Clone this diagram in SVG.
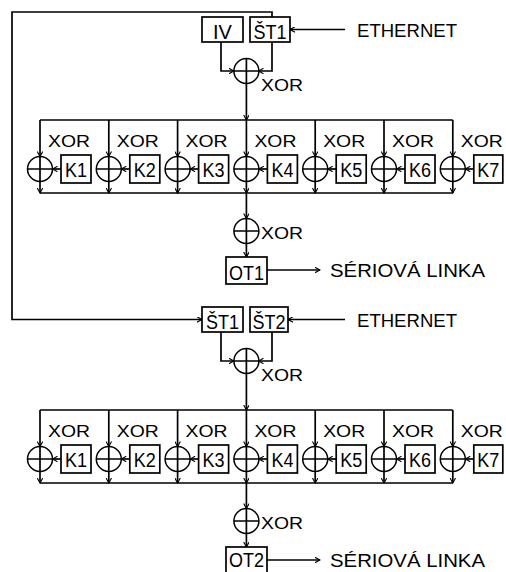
<svg xmlns="http://www.w3.org/2000/svg" xmlns:xlink="http://www.w3.org/1999/xlink" width="506" height="572" viewBox="0 0 506 572">
<style>
.ln{fill:none;stroke:#000;stroke-width:1.7}
.ar{marker-end:url(#a)}
.bx{fill:#fff;stroke:#000;stroke-width:1.7}
.t{font-family:"Liberation Sans",Arial,sans-serif;fill:#000}
.bl{font-size:20px;text-anchor:middle}
.xl{font-size:17px}
.big{font-size:19px}
</style>
<defs>
<marker id="a" viewBox="0 0 12 12" refX="11" refY="6" markerWidth="6" markerHeight="6" markerUnits="userSpaceOnUse" orient="auto">
<path d="M1,0.5 L11,6 L1,11.5" fill="none" stroke="#000" stroke-width="2.2"/>
</marker>
<g id="xor">
<circle cx="0" cy="0" r="12.5" fill="#fff" stroke="#000" stroke-width="1.5"/>
<path d="M0,-12.5 V12.5 M-12.5,0 H12.5" stroke="#000" stroke-width="1.7"/>
</g>
</defs>
<rect width="506" height="572" fill="#fff"/>

<g id="connectors">
<path class="ln ar" d="M272,17 V12 H12 V319.5 H202" stroke-width="2"/>
<path class="ln ar" d="M345,29.5 H290"/>
<path class="ln ar" d="M221,42 V71 H234"/>
<path class="ln ar" d="M272,42 V71 H258.5"/>
<path class="ln ar" d="M246.4,83.5 V120"/>
<path class="ln" d="M40,120 H452.8 M40,193 H452.8"/>
<path class="ln ar" d="M40,120 V156.5"/><path class="ln ar" d="M40,181.5 V193"/><path class="ln ar" d="M61,169 H52.5"/>
<path class="ln ar" d="M108.8,120 V156.5"/><path class="ln ar" d="M108.8,181.5 V193"/><path class="ln ar" d="M129.8,169 H121.3"/>
<path class="ln ar" d="M177.6,120 V156.5"/><path class="ln ar" d="M177.6,181.5 V193"/><path class="ln ar" d="M198.6,169 H190.1"/>
<path class="ln ar" d="M246.4,120 V156.5"/><path class="ln ar" d="M246.4,181.5 V193"/><path class="ln ar" d="M267.4,169 H258.9"/>
<path class="ln ar" d="M315.2,120 V156.5"/><path class="ln ar" d="M315.2,181.5 V193"/><path class="ln ar" d="M336.2,169 H327.7"/>
<path class="ln ar" d="M384,120 V156.5"/><path class="ln ar" d="M384,181.5 V193"/><path class="ln ar" d="M405,169 H396.5"/>
<path class="ln ar" d="M452.8,120 V156.5"/><path class="ln ar" d="M452.8,181.5 V193"/><path class="ln ar" d="M473.8,169 H465.3"/>
<path class="ln ar" d="M246.4,193 V218.5"/>
<path class="ln ar" d="M246.4,243.5 V257"/>
<path class="ln ar" d="M267,270 H320"/>
<path class="ln ar" d="M345,319.5 H288"/>
<path class="ln ar" d="M221,332 V361 H234"/>
<path class="ln ar" d="M272,332 V361 H258.5"/>
<path class="ln ar" d="M246.4,373.5 V410"/>
<path class="ln" d="M40,410 H452.8 M40,483 H452.8"/>
<path class="ln ar" d="M40,410 V446.5"/><path class="ln ar" d="M40,471.5 V483"/><path class="ln ar" d="M61,459 H52.5"/>
<path class="ln ar" d="M108.8,410 V446.5"/><path class="ln ar" d="M108.8,471.5 V483"/><path class="ln ar" d="M129.8,459 H121.3"/>
<path class="ln ar" d="M177.6,410 V446.5"/><path class="ln ar" d="M177.6,471.5 V483"/><path class="ln ar" d="M198.6,459 H190.1"/>
<path class="ln ar" d="M246.4,410 V446.5"/><path class="ln ar" d="M246.4,471.5 V483"/><path class="ln ar" d="M267.4,459 H258.9"/>
<path class="ln ar" d="M315.2,410 V446.5"/><path class="ln ar" d="M315.2,471.5 V483"/><path class="ln ar" d="M336.2,459 H327.7"/>
<path class="ln ar" d="M384,410 V446.5"/><path class="ln ar" d="M384,471.5 V483"/><path class="ln ar" d="M405,459 H396.5"/>
<path class="ln ar" d="M452.8,410 V446.5"/><path class="ln ar" d="M452.8,471.5 V483"/><path class="ln ar" d="M473.8,459 H465.3"/>
<path class="ln ar" d="M246.4,483 V508.5"/>
<path class="ln ar" d="M246.4,533.5 V547"/>
<path class="ln ar" d="M267,560 H320"/>
</g>

<g id="IV"><rect class="bx" x="202" y="17" width="41" height="25"/><text class="t bl" x="222.5" y="39">IV</text></g>
<g id="ST1a"><rect class="bx" x="250" y="17" width="40" height="25"/><text class="t bl" x="270" y="39" textLength="33" lengthAdjust="spacingAndGlyphs">ŠT1</text></g>
<g id="ethA"><text class="t big" x="357" y="36.5" textLength="100" lengthAdjust="spacingAndGlyphs">ETHERNET</text></g>
<g id="xorA"><use xlink:href="#xor" x="246.4" y="71"/><text class="t xl" x="261" y="90.5" textLength="42" lengthAdjust="spacingAndGlyphs">XOR</text></g>

<g id="A1"><use xlink:href="#xor" x="40" y="169"/><text class="t xl" x="48" y="147" textLength="42" lengthAdjust="spacingAndGlyphs">XOR</text><rect class="bx" x="61" y="155" width="30" height="28"/><text class="t bl" x="76" y="176.5" textLength="22" lengthAdjust="spacingAndGlyphs">K1</text></g>
<g id="A2"><use xlink:href="#xor" x="108.8" y="169"/><text class="t xl" x="116.8" y="147" textLength="42" lengthAdjust="spacingAndGlyphs">XOR</text><rect class="bx" x="129.8" y="155" width="30" height="28"/><text class="t bl" x="144.8" y="176.5" textLength="22" lengthAdjust="spacingAndGlyphs">K2</text></g>
<g id="A3"><use xlink:href="#xor" x="177.6" y="169"/><text class="t xl" x="185.6" y="147" textLength="42" lengthAdjust="spacingAndGlyphs">XOR</text><rect class="bx" x="198.6" y="155" width="30" height="28"/><text class="t bl" x="213.6" y="176.5" textLength="22" lengthAdjust="spacingAndGlyphs">K3</text></g>
<g id="A4"><use xlink:href="#xor" x="246.4" y="169"/><text class="t xl" x="254.4" y="147" textLength="42" lengthAdjust="spacingAndGlyphs">XOR</text><rect class="bx" x="267.4" y="155" width="30" height="28"/><text class="t bl" x="282.4" y="176.5" textLength="22" lengthAdjust="spacingAndGlyphs">K4</text></g>
<g id="A5"><use xlink:href="#xor" x="315.2" y="169"/><text class="t xl" x="323.2" y="147" textLength="42" lengthAdjust="spacingAndGlyphs">XOR</text><rect class="bx" x="336.2" y="155" width="30" height="28"/><text class="t bl" x="351.2" y="176.5" textLength="22" lengthAdjust="spacingAndGlyphs">K5</text></g>
<g id="A6"><use xlink:href="#xor" x="384" y="169"/><text class="t xl" x="392" y="147" textLength="42" lengthAdjust="spacingAndGlyphs">XOR</text><rect class="bx" x="405" y="155" width="30" height="28"/><text class="t bl" x="420" y="176.5" textLength="22" lengthAdjust="spacingAndGlyphs">K6</text></g>
<g id="A7"><use xlink:href="#xor" x="452.8" y="169"/><text class="t xl" x="460.8" y="147" textLength="42" lengthAdjust="spacingAndGlyphs">XOR</text><rect class="bx" x="473.8" y="155" width="29" height="28"/><text class="t bl" x="488.3" y="176.5" textLength="22" lengthAdjust="spacingAndGlyphs">K7</text></g>

<g id="xorOutA"><use xlink:href="#xor" x="246.4" y="231"/><text class="t xl" x="261" y="238.5" textLength="42" lengthAdjust="spacingAndGlyphs">XOR</text></g>
<g id="OT1"><rect class="bx" x="226" y="257" width="41" height="27"/><text class="t bl" x="246.5" y="280" textLength="35" lengthAdjust="spacingAndGlyphs">OT1</text></g>
<g id="serA"><text class="t big" x="330" y="277" textLength="155" lengthAdjust="spacingAndGlyphs">SÉRIOVÁ LINKA</text></g>

<g id="ST1b"><rect class="bx" x="202" y="307" width="41" height="25"/><text class="t bl" x="222.5" y="329" textLength="33" lengthAdjust="spacingAndGlyphs">ŠT1</text></g>
<g id="ST2"><rect class="bx" x="250" y="307" width="38" height="25"/><text class="t bl" x="269" y="329" textLength="33" lengthAdjust="spacingAndGlyphs">ŠT2</text></g>
<g id="ethB"><text class="t big" x="357" y="326.5" textLength="100" lengthAdjust="spacingAndGlyphs">ETHERNET</text></g>
<g id="xorB"><use xlink:href="#xor" x="246.4" y="361"/><text class="t xl" x="261" y="380.5" textLength="42" lengthAdjust="spacingAndGlyphs">XOR</text></g>

<g id="B1"><use xlink:href="#xor" x="40" y="459"/><text class="t xl" x="48" y="437" textLength="42" lengthAdjust="spacingAndGlyphs">XOR</text><rect class="bx" x="61" y="445" width="30" height="28"/><text class="t bl" x="76" y="466.5" textLength="22" lengthAdjust="spacingAndGlyphs">K1</text></g>
<g id="B2"><use xlink:href="#xor" x="108.8" y="459"/><text class="t xl" x="116.8" y="437" textLength="42" lengthAdjust="spacingAndGlyphs">XOR</text><rect class="bx" x="129.8" y="445" width="30" height="28"/><text class="t bl" x="144.8" y="466.5" textLength="22" lengthAdjust="spacingAndGlyphs">K2</text></g>
<g id="B3"><use xlink:href="#xor" x="177.6" y="459"/><text class="t xl" x="185.6" y="437" textLength="42" lengthAdjust="spacingAndGlyphs">XOR</text><rect class="bx" x="198.6" y="445" width="30" height="28"/><text class="t bl" x="213.6" y="466.5" textLength="22" lengthAdjust="spacingAndGlyphs">K3</text></g>
<g id="B4"><use xlink:href="#xor" x="246.4" y="459"/><text class="t xl" x="254.4" y="437" textLength="42" lengthAdjust="spacingAndGlyphs">XOR</text><rect class="bx" x="267.4" y="445" width="30" height="28"/><text class="t bl" x="282.4" y="466.5" textLength="22" lengthAdjust="spacingAndGlyphs">K4</text></g>
<g id="B5"><use xlink:href="#xor" x="315.2" y="459"/><text class="t xl" x="323.2" y="437" textLength="42" lengthAdjust="spacingAndGlyphs">XOR</text><rect class="bx" x="336.2" y="445" width="30" height="28"/><text class="t bl" x="351.2" y="466.5" textLength="22" lengthAdjust="spacingAndGlyphs">K5</text></g>
<g id="B6"><use xlink:href="#xor" x="384" y="459"/><text class="t xl" x="392" y="437" textLength="42" lengthAdjust="spacingAndGlyphs">XOR</text><rect class="bx" x="405" y="445" width="30" height="28"/><text class="t bl" x="420" y="466.5" textLength="22" lengthAdjust="spacingAndGlyphs">K6</text></g>
<g id="B7"><use xlink:href="#xor" x="452.8" y="459"/><text class="t xl" x="460.8" y="437" textLength="42" lengthAdjust="spacingAndGlyphs">XOR</text><rect class="bx" x="473.8" y="445" width="29" height="28"/><text class="t bl" x="488.3" y="466.5" textLength="22" lengthAdjust="spacingAndGlyphs">K7</text></g>

<g id="xorOutB"><use xlink:href="#xor" x="246.4" y="521"/><text class="t xl" x="261" y="528.5" textLength="42" lengthAdjust="spacingAndGlyphs">XOR</text></g>
<g id="OT2"><rect class="bx" x="226" y="547" width="41" height="27"/><text class="t bl" x="246.5" y="567" textLength="35" lengthAdjust="spacingAndGlyphs">OT2</text></g>
<g id="serB"><text class="t big" x="330" y="567" textLength="155" lengthAdjust="spacingAndGlyphs">SÉRIOVÁ LINKA</text></g>
</svg>
